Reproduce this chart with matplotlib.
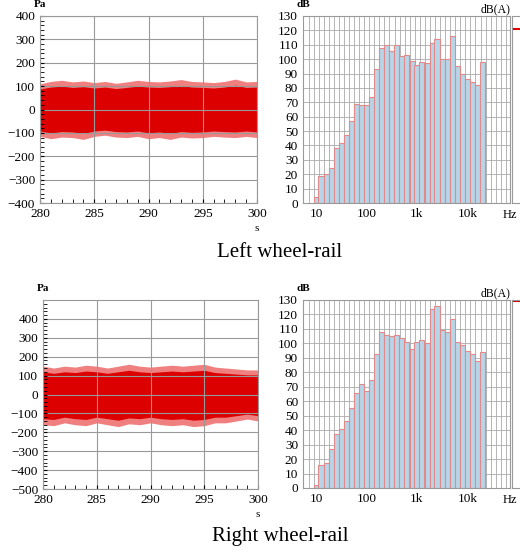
import numpy as np
import matplotlib
matplotlib.use("Agg")
import matplotlib.pyplot as plt

plt.rcParams['font.family'] = ['Liberation Serif', 'DejaVu Serif']

bands = [10,12.5,16,20,25,31.5,40,50,63,80,100,125,160,200,250,315,400,500,630,800,
         1000,1250,1600,2000,2500,3150,4000,5000,6300,8000,10000,12500,16000,20000]
left_db = [4,19,20,24,38,42,47,57,69,68,68,74,93,108,110,106,110,102,103,99,96,98,97,
           111,114,100,100,116,95,90,86,84,82,98]
right_db = [2,16,17,27,37,41,46,55,66,72,67,75,93,108,106,105,106,104,101,96,101,102,100,
            124,126,109,108,117,101,99,95,93,88,94]
left_dba = 121
right_dba = 129

# waveform peak envelopes (Pa) sampled over time
env_t = [280,281,282,283,284,285,286,287,288,289,290,291,292,293,294,295,296,297,298,299,300]
left_up = [110,120,125,118,122,115,120,112,118,125,120,118,122,128,120,118,115,120,130,118,120]
left_lo = [-115,-125,-118,-120,-128,-115,-110,-118,-120,-115,-125,-120,-128,-118,-122,-120,-115,-118,-120,-115,-120]
right_up = [150,140,150,145,155,150,140,150,160,150,145,150,155,150,155,160,145,140,135,130,130]
right_lo = [-160,-165,-150,-160,-165,-150,-160,-170,-155,-160,-150,-160,-165,-160,-170,-165,-150,-150,-140,-130,-140]
core_frac = 0.8

W, H = 520, 552
fig = plt.figure(figsize=(W/100, H/100), dpi=100)

def ax_px(x0, y0, x1, y1):
    return fig.add_axes([x0/W, 1-y1/H, (x1-x0)/W, (y1-y0)/H])

red = '#dd0000'
fs = 9.5

def wave(ax, up, lo, ylim, yticks):
    t = np.array(env_t); u = np.array(up); l = np.array(lo)
    ax.fill_between(t, u, l, color='#f08080', lw=0)
    ax.fill_between(t, u*core_frac, l*core_frac, color=red, lw=0)
    ax.set_xlim(280, 300); ax.set_ylim(*ylim)
    ax.set_xticks([280,285,290,295,300]); ax.set_yticks(yticks)
    ax.set_xticklabels(['280','285','290','295','300'])
    ax.set_yticklabels([str(v).replace('-', '\u2212') for v in yticks])
    ax.minorticks_on()
    ax.grid(True, which='major', color='#999999', lw=0.8)
    ax.tick_params(labelsize=fs, length=3, which='both', direction='in')
    for s in ax.spines.values(): s.set_color('#999999')
    ax.text(0.0, 1.035, 'Pa', transform=ax.transAxes, fontsize=8, ha='center', va='bottom', fontweight='bold')
    ax.text(1.0, -0.11, 's', transform=ax.transAxes, fontsize=8, ha='center', va='top')

def spec(ax, vals, top):
    f = np.array(bands, float)
    lo = f*2**(-1/6); hi = f*2**(1/6)
    ax.bar(lo, vals, width=hi-lo, align='edge', color='#b7d5e8', edgecolor='#e08a8a', lw=0.8, zorder=2)
    ax.set_xscale('log')
    ax.set_xlim(5.5, 70000); ax.set_ylim(0, top)
    ax.set_yticks(range(0, top+1, 10))
    ax.set_xticks([10,100,1000,10000]); ax.set_xticklabels(['10','100','1k','10k'])
    ax.xaxis.set_minor_locator(matplotlib.ticker.NullLocator())
    allf = 10*2**(np.arange(-2, 39)/3)
    for x in allf:
        ax.axvline(x*2**(-1/6), color='#aaaaaa', lw=0.6, zorder=1)
    ax.grid(True, axis='y', color='#aaaaaa', lw=0.6, zorder=1)
    ax.tick_params(labelsize=fs, length=0)
    for s in ax.spines.values(): s.set_color('#999999')
    ax.text(0.0, 1.035, 'dB', transform=ax.transAxes, fontsize=8, ha='center', va='bottom', fontweight='bold')
    ax.text(1.0, 1.005, 'dB(A)', transform=ax.transAxes, fontsize=8.5, ha='right', va='bottom')
    ax.text(1.0, -0.03, 'Hz', transform=ax.transAxes, fontsize=9, ha='center', va='top')

def dba(ax, v, top):
    ax.set_ylim(0, top); ax.set_xlim(0, 1)
    ax.hlines(v, 0, 1, color=red, lw=1.5)
    ax.set_xticks([]); ax.set_yticks([])
    for s in ax.spines.values(): s.set_color('#999999')

a1 = ax_px(40, 16, 257, 203); wave(a1, left_up, left_lo, (-400, 400), list(range(-400, 401, 100)))
a2 = ax_px(303, 16, 510, 203); spec(a2, left_db, 130)
a3 = ax_px(512, 16, 522, 203); dba(a3, left_dba, 130)

b1 = ax_px(43, 300, 258, 489); wave(b1, right_up, right_lo, (-500, 500), list(range(-500, 401, 100)))
b2 = ax_px(303, 300, 510, 488); spec(b2, right_db, 130)
b3 = ax_px(512, 300, 522, 488); dba(b3, right_dba, 130)

fig.text(280/W, 1-253/H, 'Left wheel-rail', fontsize=15, ha='center', va='center')
fig.text(280/W, 1-537/H, 'Right wheel-rail', fontsize=15, ha='center', va='center')

fig.savefig('out.png', dpi=100, facecolor='white')
